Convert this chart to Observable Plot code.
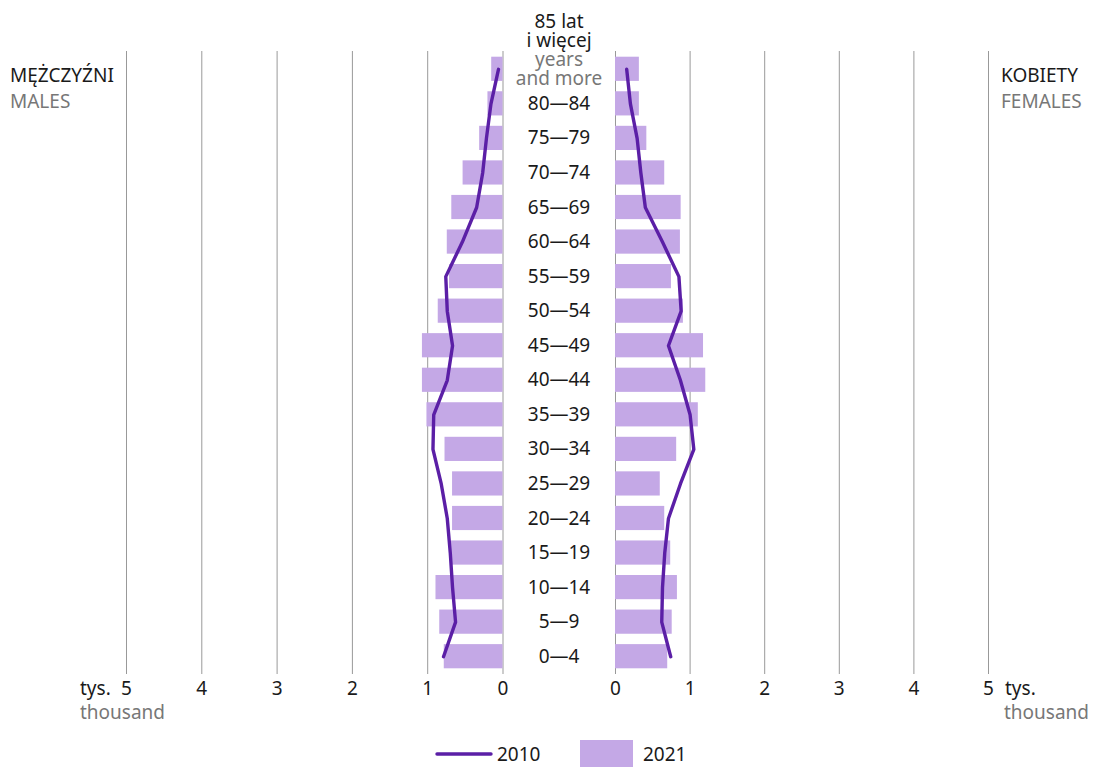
<!DOCTYPE html>
<html>
<head>
<meta charset="utf-8">
<script src="https://cdn.jsdelivr.net/npm/d3@7"></script>
<script src="https://cdn.jsdelivr.net/npm/@observablehq/plot@0.6"></script>
<style>
  html, body { margin: 0; padding: 0; background: #fff; }
  body { font-family: "Noto Sans", sans-serif; }
  #wrap { position: relative; width: 1101px; height: 769px; overflow: hidden; }
  .abs { position: absolute; font-size: 19px; line-height: 24px; white-space: nowrap; }
  .pl { color: #1a1a1a; }
  .en { color: #777; }
  #left, #right { position: absolute; top: 0; }
  svg { overflow: visible; }
</style>
</head>
<body>
<div id="wrap">
  <div id="left"></div>
  <div id="right"></div>
  <div class="abs pl" style="left:10px;top:63px">MĘŻCZYŹNI</div>
  <div class="abs en" style="left:10px;top:89px">MALES</div>
  <div class="abs pl" style="left:1001px;top:63px">KOBIETY</div>
  <div class="abs en" style="left:1001px;top:89px">FEMALES</div>
  <div class="abs pl" style="left:80px;top:676px">tys.</div>
  <div class="abs en" style="left:80px;top:700px">thousand</div>
  <div class="abs pl" style="left:1005px;top:676px">tys.</div>
  <div class="abs en" style="left:1004px;top:700px">thousand</div>
  <div id="legend"></div>
</div>
<script>
// Age groups, top to bottom
const ages = ["85+", "80-84", "75-79", "70-74", "65-69", "60-64", "55-59", "50-54", "45-49",
  "40-44", "35-39", "30-34", "25-29", "20-24", "15-19", "10-14", "5-9", "0-4"];
const ageLabels = ["85 lat\ni więcej", "80—84", "75—79", "70—74", "65—69", "60—64", "55—59", "50—54", "45—49",
  "40—44", "35—39", "30—34", "25—29", "20—24", "15—19", "10—14", "5—9", "0—4"];
const ageLabelsEn = ["years\nand more"];
// thousands
const males2021 = [0.15, 0.20, 0.31, 0.53, 0.68, 0.74, 0.71, 0.86, 1.07, 1.07, 1.01, 0.77, 0.67, 0.67, 0.69, 0.89, 0.84, 0.78];
const females2021 = [0.32, 0.32, 0.42, 0.66, 0.88, 0.87, 0.75, 0.91, 1.18, 1.21, 1.11, 0.82, 0.60, 0.66, 0.74, 0.83, 0.76, 0.70];
const males2010 = [0.06, 0.16, 0.22, 0.27, 0.35, 0.54, 0.76, 0.74, 0.67, 0.74, 0.92, 0.93, 0.82, 0.74, 0.70, 0.67, 0.63, 0.79];
const females2010 = [0.15, 0.20, 0.29, 0.34, 0.40, 0.63, 0.85, 0.88, 0.71, 0.87, 1.00, 1.05, 0.87, 0.71, 0.66, 0.63, 0.62, 0.74];
const xTicks = [0, 1, 2, 3, 4, 5];
const years = ["2010", "2021"];

const barColor = "#c4a8e6";
const lineColor = "#5b1fa6";
const gridColor = "#999";

const rows = ages.map((a, i) => ({
  age: a, label: ageLabels[i],
  m21: males2021[i], f21: females2021[i], m10: males2010[i], f10: females2010[i]
}));

const common = {
  height: 708,
  marginTop: 51,
  marginBottom: 34,
  style: {fontFamily: "Noto Sans, sans-serif", fontSize: "19px", background: "transparent", overflow: "visible", color: "#1a1a1a"},
  y: {domain: ages, paddingInner: 0.3, paddingOuter: 0.165, round: false, axis: null}
};

const left = Plot.plot({
  ...common,
  width: 615,
  marginLeft: 126,
  marginRight: 112.5,
  x: {domain: [0, 5], reverse: true, ticks: xTicks, tickSize: 0, tickPadding: 7, label: null, tickFormat: d => d},
  marks: [
    Plot.ruleX(xTicks, {stroke: gridColor, strokeWidth: 1}),
    Plot.barX(rows, {x: "m21", y: "age", fill: barColor}),
    Plot.lineX(rows, {x: "m10", y: "age", stroke: lineColor, strokeWidth: 3.4}),
    Plot.text(rows.filter(d => d.age !== "85+"), {x: 0, y: "age", text: "label", dx: 56, fill: "#1a1a1a", fontSize: 19}),
    Plot.text(rows.filter(d => d.age === "85+"), {x: 0, y: "age", text: "label", dx: 56, dy: -22, lineAnchor: "bottom", lineHeight: 1.0, fill: "#1a1a1a", fontSize: 19}),
    Plot.text(rows.filter(d => d.age === "85+"), {x: 0, y: "age", text: () => ageLabelsEn[0], dx: 56, dy: 0, lineAnchor: "middle", lineHeight: 1.0, fill: "#777", fontSize: 19})
  ]
});
document.getElementById("left").appendChild(left);

const right = Plot.plot({
  ...common,
  width: 496,
  marginLeft: 10,
  marginRight: 113,
  x: {domain: [0, 5], ticks: xTicks, tickSize: 0, tickPadding: 7, label: null, tickFormat: d => d},
  marks: [
    Plot.ruleX(xTicks, {stroke: gridColor, strokeWidth: 1}),
    Plot.barX(rows, {x: "f21", y: "age", fill: barColor}),
    Plot.lineX(rows, {x: "f10", y: "age", stroke: lineColor, strokeWidth: 3.4})
  ]
});
const rightDiv = document.getElementById("right");
rightDiv.style.left = "605px";
rightDiv.appendChild(right);

// Legend
const legend = document.getElementById("legend");
legend.innerHTML = `
  <svg style="position:absolute;left:436px;top:751px" width="56" height="6"><line x1="1" y1="3" x2="55" y2="3" stroke="${lineColor}" stroke-width="3.4" stroke-linecap="round"/></svg>
  <div class="abs pl" style="left:497px;top:742px">${years[0]}</div>
  <div style="position:absolute;left:580px;top:740px;width:53px;height:27px;background:${barColor}"></div>
  <div class="abs pl" style="left:643px;top:742px">${years[1]}</div>`;
</script>
</body>
</html>
